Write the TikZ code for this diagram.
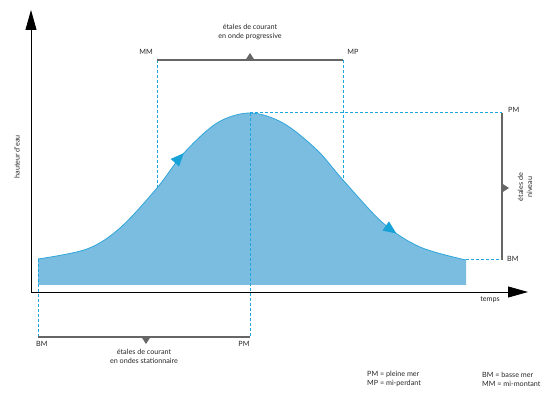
\documentclass[tikz,border=0pt]{standalone}
\usepackage{fontspec}
\setmainfont{Lato}
\usetikzlibrary{arrows.meta,decorations.markings}
\definecolor{wfill}{HTML}{7BBDE0}
\definecolor{wline}{HTML}{2FA6DA}
\definecolor{wdash}{HTML}{1FA5DE}
\definecolor{warrow}{HTML}{17A2D8}
\definecolor{bargray}{HTML}{666666}
\tikzset{
  lbl/.style={font=\fontsize{7.2}{8.8}\selectfont, inner sep=0pt, align=center, text=black!85},
  dsh/.style={wdash, line width=1pt, dash pattern=on 3pt off 2pt},
  bar/.style={bargray, line width=1.1pt},
  tri/.style={fill=bargray, draw=none},
  axis/.style={black, line width=0.8pt, -{Triangle[length=20pt,width=11pt]}},
}
\begin{document}
\begin{tikzpicture}[x=1pt,y=-1pt]
\useasboundingbox (0,0) rectangle (550,393);
% named points
\coordinate (o) at (31,292);
\coordinate (ytop) at (31,10);
\coordinate (xend) at (528,292);
\coordinate (bmL) at (38,259);
\coordinate (pk) at (250,113);
\coordinate (bmR) at (466,260);
\coordinate (mmC) at (157,188);
\coordinate (mpC) at (343,180);
% fill
\fill[wfill] (38,285) -- plot[smooth,tension=0.55] coordinates {(38,259) (87,249) (120,228) (157,188) (183,154) (217,123) (250,113) (283,123) (317,150) (343,180) (383,223) (420,247) (466,260)} -- (466,285) -- cycle;
% curve
\draw[wline, line width=0.8pt, postaction={decorate, decoration={markings,
   mark=at position 0.35 with {\arrow[warrow]{Triangle[length=13pt,width=11pt]}},
   mark=at position 0.86 with {\arrow[warrow]{Triangle[length=13pt,width=11pt]}}}}]
  plot[smooth,tension=0.55] coordinates {(38,259) (87,249) (120,228) (157,188) (183,154) (217,123) (250,113) (283,123) (317,150) (343,180) (383,223) (420,247) (466,260)};
% axes
\draw[axis] (o) -- (ytop);
\draw[axis] (o) -- (xend);
\node[lbl, anchor=north] (temps) at (490,296) {temps};
\node[lbl, rotate=90] (haut) at (17,157) {hauteur d'eau};
% top: progressive
\coordinate (mmT) at (157,60);
\coordinate (mpT) at (343,60);
\draw[dsh] (mmT) -- (mmC);
\draw[dsh] (mpT) -- (mpC);
\draw[bar] (mmT) -- (mpT);
\fill[tri] (245.5,60) -- (254.5,60) -- (250,53) -- cycle;
\node[lbl] (mm) at (146,52) {MM};
\node[lbl] (mp) at (353,52) {MP};
\node[lbl] (prog) at (250,32) {étales de courant\\en onde progressive};
% right: niveau
\coordinate (pmR) at (502,113);
\coordinate (bmRR) at (502,260);
\draw[dsh] (pk) -- (pmR);
\draw[dsh] (bmR) -- (bmRR);
\draw[bar] (pmR) -- (bmRR);
\fill[tri] (502,183.5) -- (502,192.5) -- (509,188) -- cycle;
\node[lbl, anchor=west] (pmlab) at (508,110) {PM};
\node[lbl, anchor=west] (bmlab) at (507,259) {BM};
\node[lbl, rotate=90] (niv) at (525,187) {étales de\\niveau};
% bottom: stationnaire
\coordinate (bmB) at (38,337);
\coordinate (pmB) at (250,337);
\draw[dsh] (bmL) -- (bmB);
\draw[dsh] (pk) -- (pmB);
\draw[bar] (bmB) -- (pmB);
\fill[tri] (141.5,337) -- (150.5,337) -- (146,344) -- cycle;
\node[lbl, anchor=north west] (bmblab) at (36,341) {BM};
\node[lbl, anchor=north] (pmblab) at (244,341) {PM};
\node[lbl, anchor=north] (stat) at (144,349) {étales de courant\\en ondes stationnaire};
% legend
\node[lbl, anchor=west, align=left] (leg1) at (367,379) {PM = pleine mer\\MP = mi-perdant};
\node[lbl, anchor=west, align=left] (leg2) at (482,379) {BM = basse mer\\MM = mi-montant};
\end{tikzpicture}
\end{document}
